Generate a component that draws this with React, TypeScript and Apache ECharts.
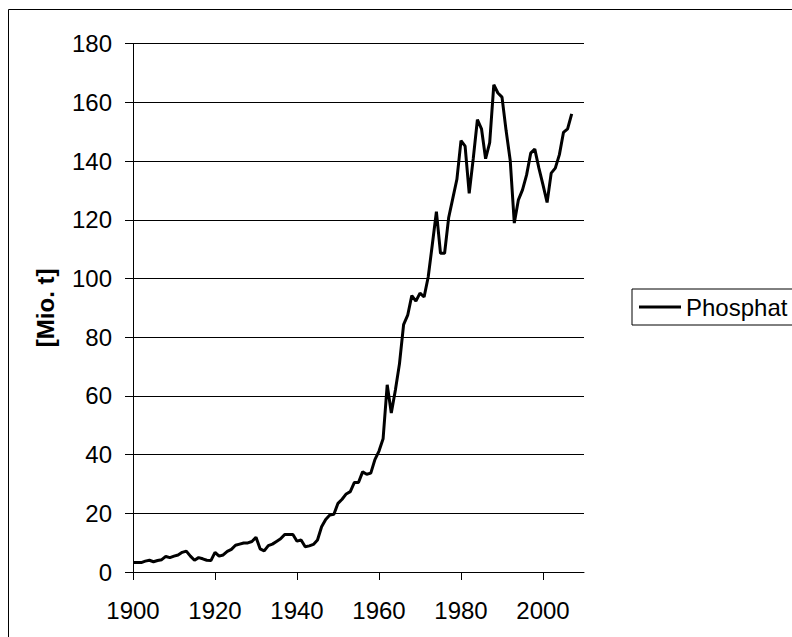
import React, { useEffect, useRef } from "react";
import * as echarts from "echarts";

const years: number[] = [
  1900, 1901, 1902, 1903, 1904, 1905, 1906, 1907, 1908, 1909,
  1910, 1911, 1912, 1913, 1914, 1915, 1916, 1917, 1918, 1919,
  1920, 1921, 1922, 1923, 1924, 1925, 1926, 1927, 1928, 1929,
  1930, 1931, 1932, 1933, 1934, 1935, 1936, 1937, 1938, 1939,
  1940, 1941, 1942, 1943, 1944, 1945, 1946, 1947, 1948, 1949,
  1950, 1951, 1952, 1953, 1954, 1955, 1956, 1957, 1958, 1959,
  1960, 1961, 1962, 1963, 1964, 1965, 1966, 1967, 1968, 1969,
  1970, 1971, 1972, 1973, 1974, 1975, 1976, 1977, 1978, 1979,
  1980, 1981, 1982, 1983, 1984, 1985, 1986, 1987, 1988, 1989,
  1990, 1991, 1992, 1993, 1994, 1995, 1996, 1997, 1998, 1999,
  2000, 2001, 2002, 2003, 2004, 2005, 2006, 2007,
];

const phosphat: number[] = [
  3.2, 3.2, 3.2, 3.7, 4.0, 3.5, 3.9, 4.2, 5.3, 4.9,
  5.4, 5.8, 6.7, 7.1, 5.4, 4.0, 4.9, 4.5, 4.0, 3.9,
  6.7, 5.4, 5.8, 7.0, 7.7, 9.1, 9.5, 9.9, 9.9, 10.4,
  11.8, 7.9, 7.2, 9.0, 9.5, 10.4, 11.3, 12.8, 12.8, 12.8,
  10.5, 10.9, 8.6, 8.9, 9.4, 10.9, 15.4, 17.9, 19.4, 19.7,
  23.4, 24.8, 26.6, 27.4, 30.5, 30.5, 34.1, 33.3, 33.7, 38.3,
  41.2, 45.4, 63.8, 54.2, 62.0, 71.0, 84.3, 87.5, 94.2, 92.3,
  95.0, 93.7, 100.5, 111.5, 122.8, 108.6, 108.6, 120.8, 127.3, 133.8,
  147.0, 145.1, 129.0, 141.0, 154.1, 151.0, 140.8, 146.3, 166.0, 163.2,
  161.8, 150.4, 140.3, 118.9, 126.8, 130.2, 135.3, 142.7, 144.1, 137.6,
  131.9, 125.9, 135.9, 137.6, 142.2, 149.8, 151.0, 156.1,
];

const seriesName = "Phosphat";
const yAxisTitle = "[Mio. t]";
const xTickValues: number[] = [1900, 1920, 1940, 1960, 1980, 2000];

const FONT = "'Liberation Sans', Arial, sans-serif";

export default function App() {
  const ref = useRef<HTMLDivElement>(null);

  useEffect(() => {
    if (!ref.current) return;
    const chart = echarts.init(ref.current, null, { renderer: "svg" });
    const data = years.map((y, i) => [y, phosphat[i]]);
    chart.setOption({
      animation: false,
      backgroundColor: "#fff",
      textStyle: { fontFamily: FONT },
      graphic: [
        {
          type: "rect",
          shape: { x: 8.5, y: 9.5, width: 1000, height: 1000 },
          style: { fill: "none", stroke: "#000", lineWidth: 1 },
          silent: true,
          z: -1,
        },
      ],
      legend: {
        show: true,
        left: 632,
        top: 289,
        orient: "horizontal",
        padding: [6, 20, 6, 7],
        borderColor: "#000",
        borderWidth: 1,
        borderRadius: 0,
        itemWidth: 42,
        itemHeight: 3,
        icon: "rect",
        textStyle: { fontSize: 24, fontFamily: FONT, color: "#000", lineHeight: 24 },
        data: [seriesName],
      },
      grid: {
        left: 133,
        top: 43.7,
        right: 208,
        bottom: 65,
        containLabel: false,
        outerBoundsMode: "none",
      },
      xAxis: {
        type: "value",
        min: 1900,
        max: 2010,
        axisLine: { show: true, onZero: false, lineStyle: { color: "#000", width: 1 } },
        axisTick: {
          show: true,
          inside: false,
          length: 8,
          customValues: xTickValues,
          lineStyle: { color: "#000", width: 1 },
        },
        axisLabel: {
          customValues: xTickValues,
          formatter: (v: number) => String(v),
          fontSize: 24,
          fontFamily: FONT,
          color: "#000",
          margin: 26,
        },
        splitLine: { show: false },
      },
      yAxis: {
        type: "value",
        min: 0,
        max: 180,
        interval: 20,
        name: yAxisTitle,
        nameLocation: "middle",
        nameRotate: 90,
        nameGap: 76,
        nameTextStyle: { fontSize: 24, fontWeight: "bold", fontFamily: FONT, color: "#000" },
        axisLine: { show: true, lineStyle: { color: "#000", width: 1 } },
        axisTick: { show: true, inside: false, length: 8, lineStyle: { color: "#000", width: 1 } },
        axisLabel: { fontSize: 24, fontFamily: FONT, color: "#000", margin: 21 },
        splitLine: { show: true, lineStyle: { color: "#000", width: 1 } },
      },
      series: [
        {
          name: seriesName,
          type: "line",
          data,
          symbol: "none",
          showSymbol: false,
          color: "#000",
          lineStyle: { color: "#000", width: 3 },
          itemStyle: { color: "#000" },
        },
      ],
    });
    return () => chart.dispose();
  }, []);

  return (
    <div
      ref={ref}
      style={{ position: "fixed", left: 0, top: 0, width: 792, height: 637, background: "#fff" }}
    />
  );
}
